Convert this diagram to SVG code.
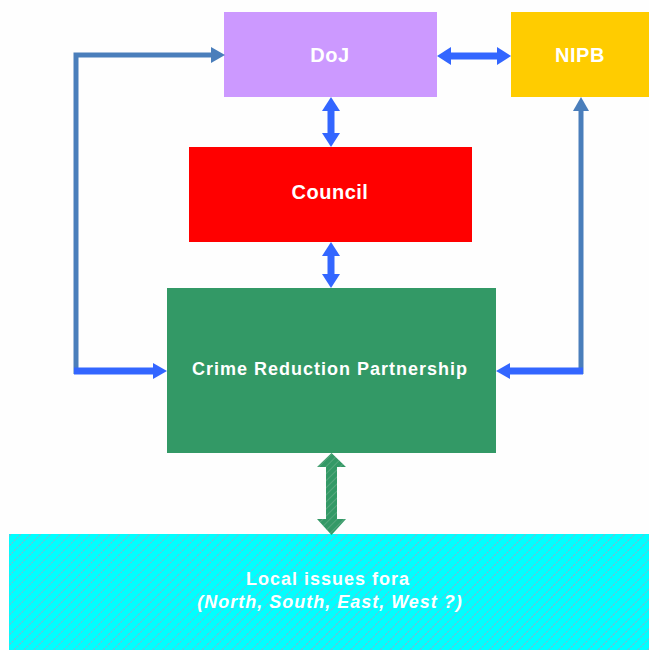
<svg xmlns="http://www.w3.org/2000/svg" width="649" height="650" viewBox="0 0 649 650">
<defs>
<style>
.lbl{font-family:"Liberation Sans",Arial,sans-serif;font-weight:bold;font-size:18px;fill:#ffffff;text-anchor:middle;letter-spacing:1px}
.big{font-size:20px;letter-spacing:0.5px}
.it{font-style:italic}
.blue{stroke:#3366ff;stroke-width:7;fill:none}
.steel{stroke:#4a7ebb;stroke-width:5;fill:none}
</style>
<pattern id="hatch" patternUnits="userSpaceOnUse" width="7" height="7" patternTransform="rotate(45)">
<line x1="0" y1="0" x2="0" y2="7" stroke="#a8a0c0" stroke-width="1.5" stroke-dasharray="2 1"/>
</pattern>
<pattern id="hatchG" patternUnits="userSpaceOnUse" width="5" height="5" patternTransform="rotate(45)">
<line x1="0" y1="0" x2="0" y2="5" stroke="#6fb08c" stroke-width="1.2"/>
</pattern>
<marker id="hb" markerUnits="userSpaceOnUse" markerWidth="14" markerHeight="18" refX="4" refY="9" orient="auto-start-reverse">
<path d="M0,0 L14,9 L0,18 z" fill="#3366ff"/>
</marker>
<marker id="hs" markerUnits="userSpaceOnUse" markerWidth="14" markerHeight="16" refX="4" refY="8" orient="auto">
<path d="M0,0 L14,8 L0,16 z" fill="#4a7ebb"/>
</marker>
<marker id="hbs" markerUnits="userSpaceOnUse" markerWidth="14" markerHeight="16" refX="4" refY="8" orient="auto">
<path d="M0,0 L14,8 L0,16 z" fill="#3366ff"/>
</marker>
</defs>
<rect x="0" y="0" width="649" height="650" fill="#fefefe"/>

<g id="doj">
<rect x="224" y="12" width="213" height="85" fill="#cc99ff"/>
<text class="lbl big" x="330" y="62">DoJ</text>
</g>
<g id="nipb">
<rect x="511" y="12" width="138" height="85" fill="#ffcc00"/>
<text class="lbl big" x="580" y="62">NIPB</text>
</g>
<g id="council">
<rect x="189" y="147" width="283" height="95" fill="#ff0000"/>
<text class="lbl big" x="330" y="199">Council</text>
</g>
<g id="crp">
<rect x="167" y="288" width="329" height="165" fill="#339966"/>
<text class="lbl" x="330" y="375">Crime Reduction Partnership</text>
</g>
<g id="local">
<rect x="9" y="534" width="640" height="116" fill="#00ffff"/>
<rect x="9" y="534" width="640" height="116" fill="url(#hatch)"/>
<text class="lbl" x="328" y="585">Local issues fora</text>
<text class="lbl it" x="330" y="608">(North, South, East, West ?)</text>
</g>

<g id="connectors">
<line class="blue" x1="447" y1="56" x2="501" y2="56" marker-start="url(#hb)" marker-end="url(#hb)"/>
<line class="blue" x1="331" y1="107" x2="331" y2="137" stroke-width="6" marker-start="url(#hb)" marker-end="url(#hb)"/>
<line class="blue" x1="331" y1="252" x2="331" y2="278" stroke-width="6" marker-start="url(#hb)" marker-end="url(#hb)"/>
<polyline class="steel" points="76,374 76,55 215,55" marker-end="url(#hs)"/>
<line class="blue" x1="74" y1="371" x2="157" y2="371" stroke-width="6" marker-end="url(#hbs)"/>
<polyline class="steel" points="581,374 581,107" marker-end="url(#hs)"/>
<line class="blue" x1="583" y1="371" x2="506" y2="371" stroke-width="6" marker-end="url(#hbs)"/>
<g id="green-arrow">
<polygon points="331.5,453 346,467 337,467 337,519 346,519 331.5,535 317,519 326,519 326,467 317,467" fill="#339966"/>
<polygon points="331.5,453 346,467 337,467 337,519 346,519 331.5,535 317,519 326,519 326,467 317,467" fill="url(#hatchG)"/>
</g>
</g>
</svg>
